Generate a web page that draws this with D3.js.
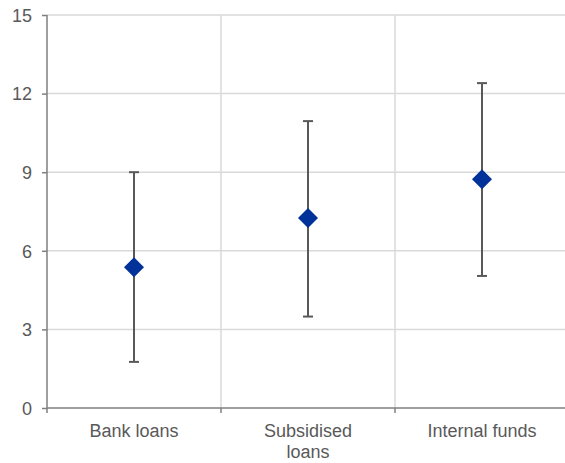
<!DOCTYPE html>
<html>
<head>
<meta charset="utf-8">
<script src="https://cdn.jsdelivr.net/npm/d3@7"></script>
<style>
  html, body { margin: 0; padding: 0; background: #fff; }
  svg { display: block; font-family: "Liberation Sans", Arial, sans-serif; }
</style>
</head>
<body>
<svg id="chart" width="565" height="463"></svg>
<script>
// Funding sources and their estimates with range bounds
const categories = ["Bank loans", "Subsidised loans", "Internal funds"];
const categoryLines = [["Bank loans"], ["Subsidised", "loans"], ["Internal funds"]];
const pointValues = [5.37, 7.25, 8.73];
const lowValues = [1.76, 3.49, 5.04];
const highValues = [9.0, 10.95, 12.4];
const yTicks = [0, 3, 6, 9, 12, 15];

const svg = d3.select("#chart");
const margin = { left: 47, right: -4, top: 15, bottom: 55 };
const W = 565, H = 463;

const x = d3.scaleBand()
  .domain(categories)
  .range([margin.left, W - margin.right])
  .paddingInner(0).paddingOuter(0);

const y = d3.scaleLinear()
  .domain([0, 15])
  .range([H - margin.bottom, margin.top]);

const textColor = "#595959";
const gridColor = "#d9d9d9";
const axisColor = "#7f7f7f";

// Horizontal gridlines
svg.append("g")
  .selectAll("line")
  .data(yTicks.filter(d => d > 0))
  .join("line")
  .attr("x1", margin.left).attr("x2", W - margin.right)
  .attr("y1", d => y(d)).attr("y2", d => y(d))
  .attr("stroke", gridColor).attr("stroke-width", 1.5);

// Vertical gridlines between categories
const boundaries = categories.slice(1).map(c => x(c));
svg.append("g")
  .selectAll("line")
  .data(boundaries)
  .join("line")
  .attr("x1", d => d).attr("x2", d => d)
  .attr("y1", y(15)).attr("y2", y(0))
  .attr("stroke", gridColor).attr("stroke-width", 1.5);

// Y axis
const yAxis = d3.axisLeft(y).tickValues(yTicks).tickSize(5).tickPadding(10);
const gy = svg.append("g")
  .attr("transform", `translate(${margin.left},0)`)
  .call(yAxis);
gy.select(".domain").attr("stroke", axisColor).attr("stroke-width", 1.5)
  .attr("d", `M0,${y(15)}V${y(0)}`);
gy.selectAll(".tick line").attr("stroke", axisColor).attr("stroke-width", 1.5);
gy.selectAll(".tick text")
  .attr("fill", textColor)
  .style("font-size", "18px")
  .attr("dy", "0.35em");

// X axis baseline and boundary ticks
svg.append("line")
  .attr("x1", margin.left).attr("x2", W - margin.right)
  .attr("y1", y(0)).attr("y2", y(0))
  .attr("stroke", axisColor).attr("stroke-width", 1.5);
svg.append("g")
  .selectAll("line")
  .data([margin.left, ...boundaries])
  .join("line")
  .attr("x1", d => d).attr("x2", d => d)
  .attr("y1", y(0)).attr("y2", y(0) + 5)
  .attr("stroke", axisColor).attr("stroke-width", 1.5);

// Category labels
const labels = svg.append("g")
  .selectAll("text")
  .data(categories)
  .join("text")
  .attr("x", d => x(d) + x.bandwidth() / 2)
  .attr("y", y(0) + 29)
  .attr("text-anchor", "middle")
  .attr("fill", textColor)
  .style("font-size", "18px");
labels.each(function(d, i) {
  d3.select(this).selectAll("tspan")
    .data(categoryLines[i])
    .join("tspan")
    .attr("x", x(d) + x.bandwidth() / 2)
    .attr("dy", (t, j) => j === 0 ? 0 : 21)
    .text(t => t);
});

// Range bars with end caps
const cx = d => x(d) + x.bandwidth() / 2;
const bars = svg.append("g").selectAll("g")
  .data(categories)
  .join("g");
bars.append("line")
  .attr("x1", cx).attr("x2", cx)
  .attr("y1", (d, i) => y(lowValues[i])).attr("y2", (d, i) => y(highValues[i]))
  .attr("stroke", "#595959").attr("stroke-width", 2);
bars.append("line")
  .attr("x1", d => cx(d) - 5).attr("x2", d => cx(d) + 5)
  .attr("y1", (d, i) => y(lowValues[i])).attr("y2", (d, i) => y(lowValues[i]))
  .attr("stroke", "#595959").attr("stroke-width", 2);
bars.append("line")
  .attr("x1", d => cx(d) - 5).attr("x2", d => cx(d) + 5)
  .attr("y1", (d, i) => y(highValues[i])).attr("y2", (d, i) => y(highValues[i]))
  .attr("stroke", "#595959").attr("stroke-width", 2);

// Point estimates as diamonds
const diamond = d3.symbol().type(d3.symbolSquare).size(200);
svg.append("g").selectAll("path")
  .data(categories)
  .join("path")
  .attr("d", diamond)
  .attr("transform", (d, i) => `translate(${cx(d)},${y(pointValues[i])}) rotate(45)`)
  .attr("fill", "#003299");
</script>
</body>
</html>
